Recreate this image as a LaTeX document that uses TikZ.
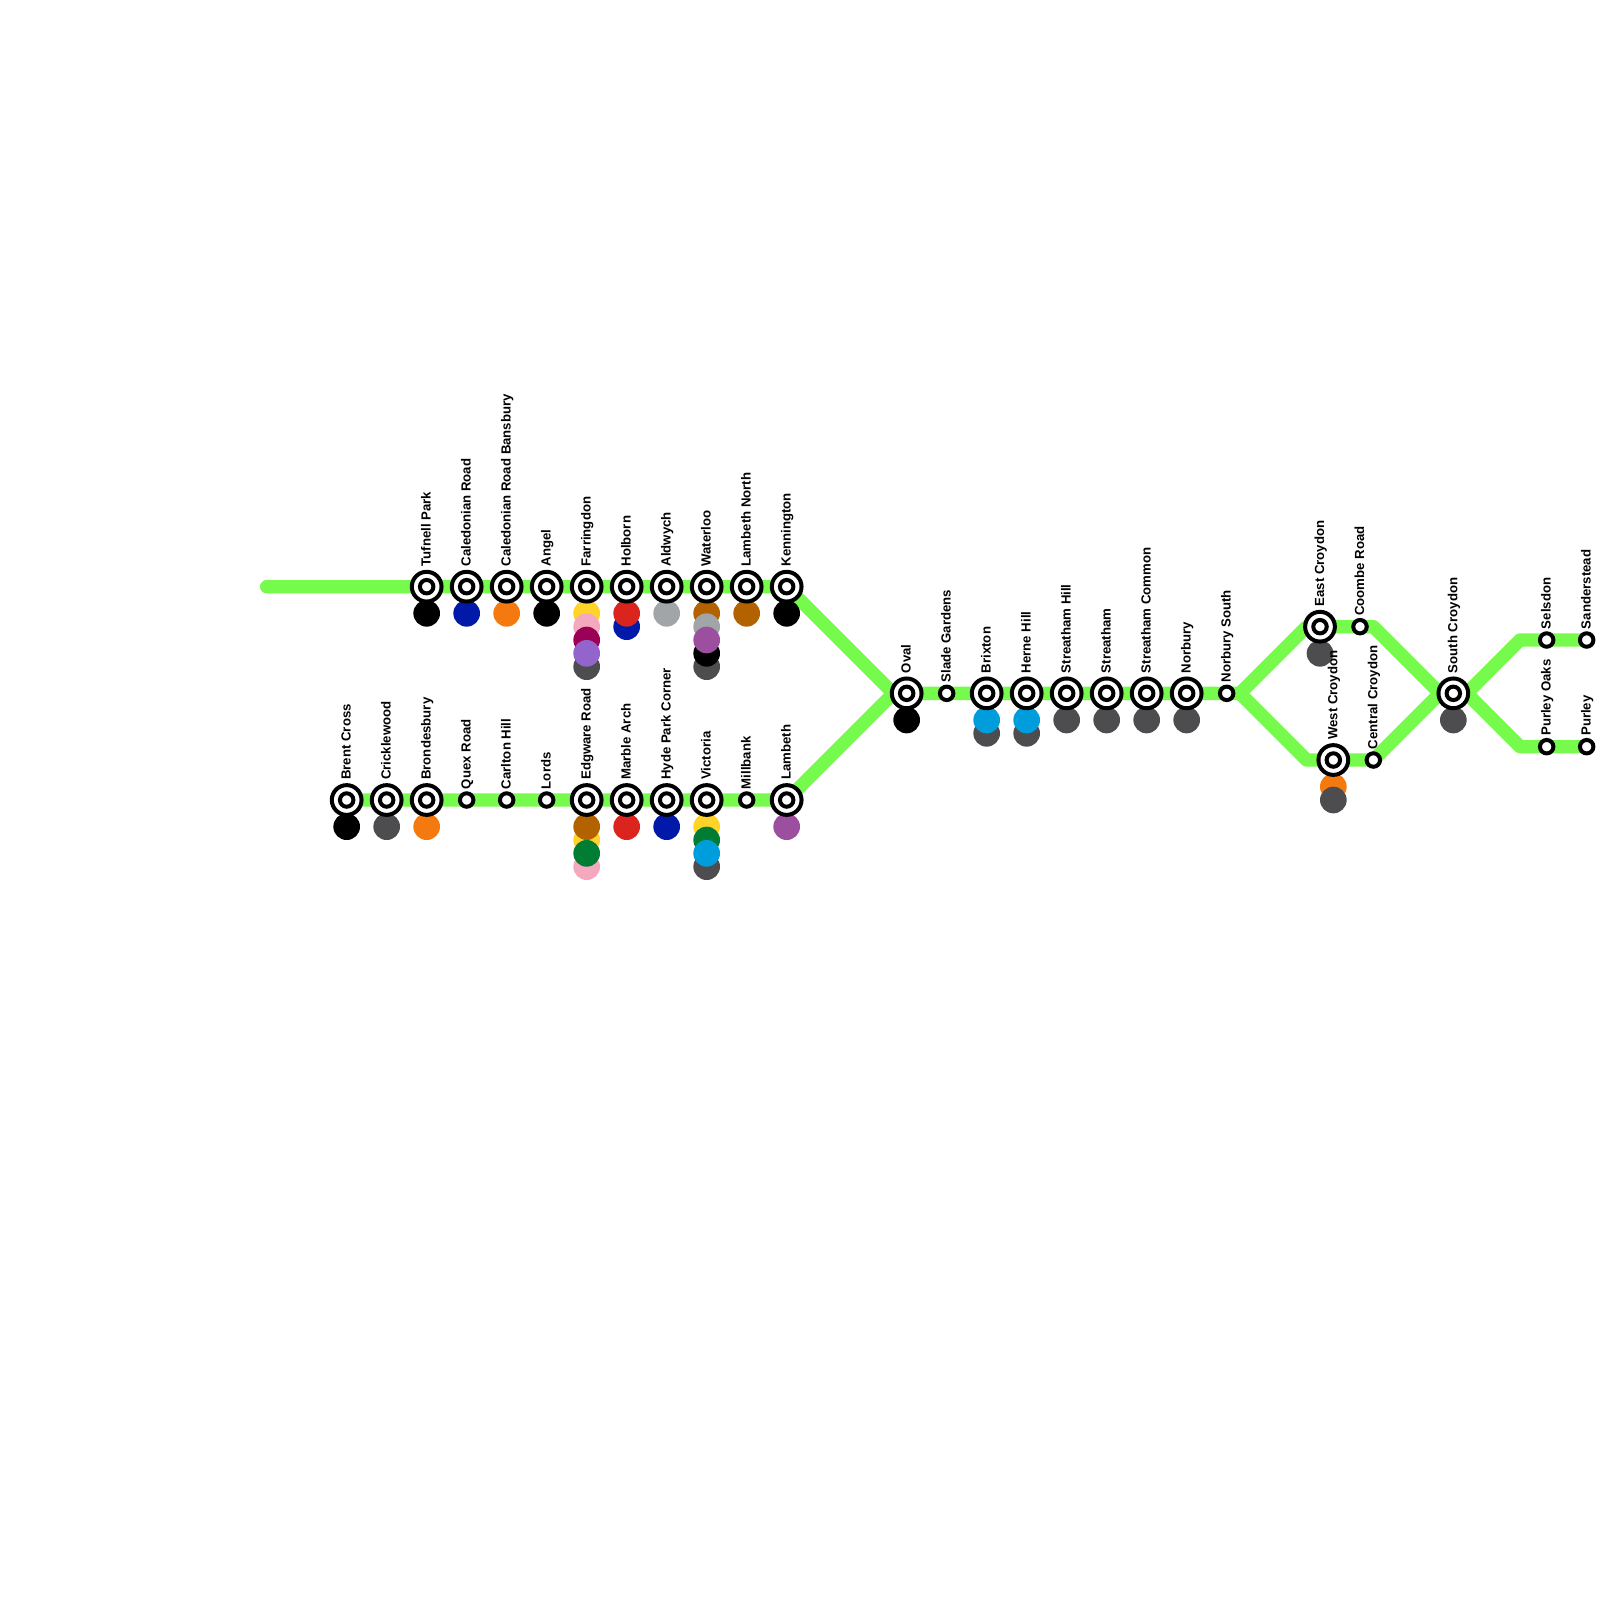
\documentclass[tikz,border=0pt]{standalone}
\usepackage{fontspec}
\setmainfont{Liberation Sans}
\usetikzlibrary{backgrounds}
\definecolor{lineGreen}{HTML}{76FB4C}
\definecolor{lineGrey}{HTML}{4D4D4F}
\definecolor{lineBlue}{HTML}{0019A8}
\definecolor{lineOrange}{HTML}{F47A10}
\definecolor{lineYellow}{HTML}{FFD329}
\definecolor{linePink}{HTML}{F4A9BE}
\definecolor{lineMagenta}{HTML}{9B0056}
\definecolor{linePurple}{HTML}{9364CC}
\definecolor{lineRed}{HTML}{DC241F}
\definecolor{lineSilver}{HTML}{A1A5A7}
\definecolor{lineBrown}{HTML}{B26300}
\definecolor{lineViolet}{HTML}{9B4F9E}
\definecolor{lineDkGreen}{HTML}{007D32}
\definecolor{lineSky}{HTML}{009DDC}
\tikzset{
  route/.style={lineGreen, line width=10pt, line cap=round, line join=round},
  stop/.style={circle, draw=black, fill=white, line width=3pt, minimum size=10.1pt, inner sep=0pt, outer sep=0pt},
  hub/.style={stop, minimum size=22.3pt},
  stnlabel/.style={rotate=90, anchor=base west, inner sep=0pt, font=\bfseries\fontsize{9.9}{10}\selectfont}
}
\begin{document}
\begin{tikzpicture}[x=10pt, y=-10pt]
      \useasboundingbox (0,0) rectangle (120,120);
      % interchange stations
      \foreach \n/\x/\y/\lbl in {tufnell/32/44/Tufnell Park, caledonian/35/44/Caledonian Road, bansbury/38/44/Caledonian Road Bansbury,
          angel/41/44/Angel, farringdon/44/44/Farringdon, holborn/47/44/Holborn, aldwych/50/44/Aldwych, waterloo/53/44/Waterloo,
          lambethn/56/44/Lambeth North, kennington/59/44/Kennington,
          brent/26/60/Brent Cross, cricklewood/29/60/Cricklewood, brondesbury/32/60/Brondesbury, edgware/44/60/Edgware Road,
          marble/47/60/Marble Arch, hyde/50/60/Hyde Park Corner, victoria/53/60/Victoria, lambeth/59/60/Lambeth,
          oval/68/52/Oval, brixton/74/52/Brixton, herne/77/52/Herne Hill, streathamh/80/52/Streatham Hill, streatham/83/52/Streatham,
          streathamc/86/52/Streatham Common, norbury/89/52/Norbury, eastcroydon/99/47/East Croydon, westcroydon/100/57/West Croydon,
          southcroydon/109/52/South Croydon}
      {
        \node[hub] (\n) at (\x,\y) {};
        \node[stop] (\n-in) at (\n.center) {};
        \node[stnlabel] (\n-txt) at ([shift={(3pt,15pt)}]\n.center) {\lbl};
      }
      % plain stops
      \foreach \n/\x/\y/\lbl in {quex/35/60/Quex Road, carlton/38/60/Carlton Hill, lords/41/60/Lords, millbank/56/60/Millbank,
          slade/71/52/Slade Gardens, norburys/92/52/Norbury South, coombe/102/47/Coombe Road, central/103/57/Central Croydon,
          selsdon/116/48/Selsdon, sanderstead/119/48/Sanderstead, purleyo/116/56/Purley Oaks, purley/119/56/Purley}
      {
        \node[stop] (\n) at (\x,\y) {};
        \node[stnlabel] (\n-txt) at ([shift={(3pt,8pt)}]\n.center) {\lbl};
      }
      % bends and the free end of the line
      \coordinate (linestart) at (20,44);
      \foreach \n/\x/\y in {bendov/67/52, fork/93/52, bendea/98/47, bendeb/103/47, bendwa/98/57, bendsa/108/52,
          bendse/114/48, bendpu/114/56, bendsb/110/52}
        \coordinate (\n) at (\x,\y);
      \begin{scope}[on background layer]
        % green line
        \draw[route] (linestart) -- (kennington.center) -- (bendov) -- (oval.center) -- (fork) -- (bendea) -- (bendeb)
          -- (bendsa) -- (southcroydon.center) -- (bendsb) -- (bendse) -- (sanderstead.center);
        \draw[route] (brent.center) -- (lambeth.center) -- (bendov);
        \draw[route] (fork) -- (bendwa) -- (central.center) -- (bendsa);
        \draw[route] (bendsb) -- (bendpu) -- (purley.center);
        % interchange dots, slot 0 next to the station
        \foreach \s/\c/\k in {tufnell/black/0, caledonian/lineBlue/0, bansbury/lineOrange/0, angel/black/0,
            farringdon/lineYellow/0, farringdon/lineGrey/4, farringdon/linePink/1, farringdon/lineMagenta/2, farringdon/linePurple/3,
            holborn/lineBlue/1, holborn/lineRed/0, aldwych/lineSilver/0,
            waterloo/lineBrown/0, waterloo/lineSilver/1, waterloo/lineGrey/4, waterloo/black/3, waterloo/lineViolet/2,
            lambethn/lineBrown/0, kennington/black/0,
            brent/black/0, cricklewood/lineGrey/0, brondesbury/lineOrange/0,
            edgware/lineYellow/1, edgware/linePink/3, edgware/lineBrown/0, edgware/lineDkGreen/2,
            marble/lineRed/0, hyde/lineBlue/0,
            victoria/lineYellow/0, victoria/lineGrey/3, victoria/lineDkGreen/1, victoria/lineSky/2, lambeth/lineViolet/0,
            oval/black/0, brixton/lineGrey/1, brixton/lineSky/0, herne/lineGrey/1, herne/lineSky/0,
            streathamh/lineGrey/0, streatham/lineGrey/0, streathamc/lineGrey/0, norbury/lineGrey/0,
            eastcroydon/lineGrey/0, westcroydon/lineOrange/0, westcroydon/lineGrey/1, southcroydon/lineGrey/0}
          \fill[\c] ([yshift=-20pt-10pt*\k]\s.center) circle (10pt);
      \end{scope}
    \end{tikzpicture}
\end{document}
